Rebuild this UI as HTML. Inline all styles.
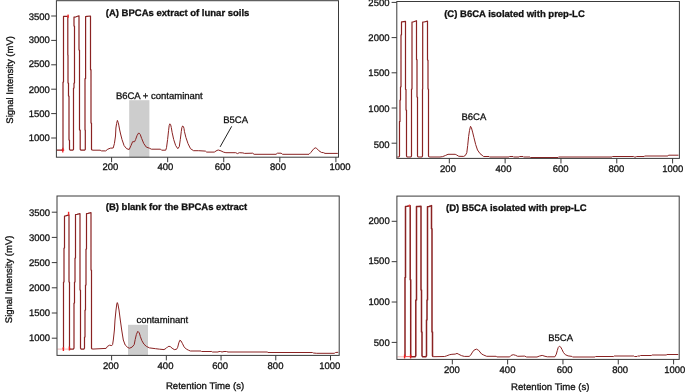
<!DOCTYPE html>
<html><head><meta charset="utf-8"><style>
html,body{margin:0;padding:0;background:#fff;}
body{width:685px;height:392px;overflow:hidden;}
svg{display:block;will-change:transform;}
svg text{text-rendering:geometricPrecision;font-family:"Liberation Sans", sans-serif;font-size:9.5px;fill:#111;stroke:#111;stroke-width:0.3px;}
svg text.t{font-weight:bold;}
</style></head><body>
<svg width="685" height="392" viewBox="0 0 685 392">
<rect x="0" y="0" width="685" height="392" fill="#fff"/>
<rect x="129.2" y="100.2" width="20.2" height="57" fill="#cdcdcd"/>
<rect x="128.0" y="324.8" width="20.0" height="30.4" fill="#cdcdcd"/>
<polyline points="92.20,150.20 100.10,150.20 101.60,150.90 105.70,150.90 107.80,149.20 110.30,148.20 113.20,148.00 114.40,143.60 115.50,136.00 115.90,128.00 116.60,123.50 117.40,120.40 118.20,122.50 118.80,125.20 119.70,130.00 120.60,134.00 122.00,139.50 124.10,145.60 126.60,148.70 129.20,149.50 131.00,145.60 132.60,141.70 134.60,141.70 135.60,139.50 137.10,135.40 138.70,132.90 140.20,134.40 141.70,138.50 143.80,143.60 146.30,147.10 149.40,148.20 151.40,149.20 160.60,149.20 161.60,150.20 165.70,150.20 166.50,147.70 167.60,139.50 168.60,130.30 169.20,125.50 169.90,123.80 170.60,124.60 171.30,127.50 172.10,132.30 173.70,139.50 175.70,145.60 177.80,148.70 179.30,146.60 180.30,139.50 181.30,131.30 181.90,127.50 182.60,126.00 183.40,126.50 184.00,128.50 184.40,131.30 185.90,137.40 188.00,143.60 190.50,148.70 193.60,150.70 198.70,150.70 205.40,151.10 206.70,152.10 214.30,152.10 217.00,150.40 218.30,150.00 221.00,150.90 223.70,152.20 225.90,152.70 235.70,152.70 237.50,153.60 239.30,152.70 242.90,152.90 244.60,153.40 252.70,153.20 254.10,154.30 276.00,154.30 277.50,153.20 281.10,153.20 282.60,154.30 309.00,154.30 310.80,152.50 313.40,149.20 315.20,147.80 316.60,148.30 318.80,150.70 321.40,152.40 323.60,152.70 325.00,153.40 337.80,153.40" fill="none" stroke="#8a2222" stroke-width="1.0" stroke-linejoin="round" stroke-opacity="1.0" /><polyline points="56.50,150.20 62.30,150.20 63.00,149.30 63.00,82.00 63.50,82.00 63.50,16.40 67.80,16.40 67.80,55.00 68.00,55.00 68.00,83.00 68.50,83.00 68.50,96.00 69.00,96.00 69.00,140.00 69.50,140.00 69.50,149.30 70.20,150.20 72.80,150.20 73.50,149.30 73.50,88.00 74.00,88.00 74.00,83.00 74.50,83.00 74.50,26.00 74.00,26.00 74.00,17.20 76.00,16.80 79.00,15.80 79.00,50.00 79.50,50.00 79.50,130.00 80.20,130.00 80.20,149.30 80.90,150.20 84.60,150.20 85.30,149.30 85.30,130.00 85.00,130.00 85.00,78.60 85.60,78.60 85.60,16.60 87.00,16.30 90.50,16.00 90.50,69.70 91.00,69.70 91.00,123.00 91.50,123.00 91.50,149.30 92.20,150.20" fill="none" stroke="#8a2222" stroke-width="1.2" stroke-linejoin="round" stroke-opacity="1.0" />
<path d="M61.5,150.2 H64.2 M62.8,147.8 V152.6" stroke="#e8161b" stroke-width="1.2"/><rect x="67.3" y="14.6" width="1.6" height="3.2" fill="#f03030"/>
<polyline points="92.20,349.10 106.10,348.40 107.50,346.30 109.60,345.20 111.80,345.60 112.60,344.50 113.30,340.00 114.40,330.00 115.00,320.00 116.00,310.00 116.80,304.00 117.30,302.60 117.90,304.00 119.00,310.00 120.30,320.00 121.70,330.00 123.30,340.00 125.20,345.00 127.90,347.60 129.60,348.20 132.10,347.10 134.20,344.60 135.20,339.50 136.40,334.40 137.80,331.30 139.30,332.90 140.30,336.40 141.80,340.50 143.90,344.10 146.40,346.40 149.50,347.90 155.60,348.70 159.70,349.20 164.00,349.60 166.30,348.20 167.60,346.90 168.90,346.30 170.30,346.60 172.10,348.20 174.30,349.60 176.50,349.30 177.70,347.30 178.80,342.90 179.80,340.30 181.00,340.90 182.30,343.30 184.10,346.90 186.30,349.10 188.50,350.20 190.40,351.00 201.10,351.00 201.60,351.50 211.80,351.50 212.50,352.00 218.00,352.00 219.00,351.50 220.50,351.50 222.00,352.00 224.00,351.50 226.50,351.50 228.00,352.00 267.20,352.00 268.00,352.50 312.50,352.50 313.50,353.00 316.70,353.30 334.30,353.30 335.50,352.50 338.30,352.30" fill="none" stroke="#8a2222" stroke-width="1.0" stroke-linejoin="round" stroke-opacity="1.0" /><polyline points="62.80,349.10 63.50,348.20 63.50,282.00 64.00,282.00 64.00,248.00 64.50,248.00 64.50,216.10 65.50,215.90 68.30,215.10 69.00,214.90 69.00,282.00 69.50,282.00 69.50,348.20 70.20,349.10 73.30,349.10 74.00,348.20 74.00,303.00 74.50,303.00 74.50,282.00 75.00,282.00 75.00,258.00 75.50,258.00 75.50,214.50 77.00,214.30 80.00,213.60 80.00,290.00 80.50,290.00 80.50,348.20 81.20,349.10 83.80,349.10 84.50,348.20 84.50,337.00 85.00,337.00 85.00,310.00 85.50,310.00 85.50,285.00 86.00,285.00 86.00,249.00 86.50,249.00 86.50,213.60 88.00,213.40 91.00,212.60 91.00,270.00 91.50,270.00 91.50,348.20 92.20,349.10" fill="none" stroke="#8a2222" stroke-width="1.2" stroke-linejoin="round" stroke-opacity="1.0" />
<line x1="57.5" y1="349.1" x2="69.5" y2="349.1" stroke="#f2b0b0" stroke-width="1"/><path d="M63.4,347 V351 M69.4,346.4 V350.6" stroke="#ee1c1c" stroke-width="1.4"/><rect x="67.9" y="211.8" width="1.4" height="3.8" fill="#f02828"/>
<polyline points="429.20,157.00 440.00,157.00 442.70,156.60 445.40,155.50 448.00,154.30 455.20,154.30 456.50,154.90 458.80,156.30 463.70,156.40 465.40,155.40 466.80,152.70 467.70,145.50 468.60,136.60 469.50,130.40 470.50,126.30 471.40,127.70 472.60,132.10 473.90,137.40 475.70,144.60 477.50,150.00 480.00,153.60 482.90,155.90 483.60,156.50 489.00,156.50 489.50,157.00 509.00,157.00 509.50,156.50 513.00,156.50 513.50,157.00 519.00,157.00 519.50,156.50 523.00,156.50 523.50,157.00 530.00,157.00 530.50,157.50 558.00,157.50 558.50,157.00 612.00,157.00 612.50,156.50 633.70,156.50 634.50,157.00 636.00,157.00 636.60,156.50 644.20,156.50 644.80,156.00 667.90,156.00 668.50,155.20 678.50,155.20" fill="none" stroke="#8a2222" stroke-width="1.0" stroke-linejoin="round" stroke-opacity="1.0" /><polyline points="397.20,157.00 398.80,157.00 399.50,156.10 399.50,121.40 400.00,121.40 400.00,100.00 400.50,100.00 400.50,86.80 401.00,86.80 401.00,34.80 401.50,34.80 401.50,21.90 402.00,21.90 405.50,21.30 405.50,89.30 406.00,89.30 406.00,110.00 406.50,110.00 406.50,156.10 407.20,157.00 410.80,157.00 411.50,156.10 411.50,89.00 412.00,89.00 412.00,22.20 413.00,22.00 416.50,20.70 416.50,59.60 417.00,59.60 417.00,97.00 417.50,97.00 417.50,156.10 418.20,157.00 421.80,157.00 422.50,156.10 422.50,89.00 422.70,89.00 422.70,22.10 424.00,22.00 427.50,21.10 427.50,60.00 428.00,60.00 428.00,89.00 428.50,89.00 428.50,156.10 429.20,157.00" fill="none" stroke="#8a2222" stroke-width="1.2" stroke-linejoin="round" stroke-opacity="1.0" />
<polyline points="433.20,356.70 444.60,356.50 446.80,355.80 449.70,354.70 451.90,354.30 455.20,354.10 457.00,353.40 458.80,354.30 461.40,355.60 464.30,356.40 469.10,356.40 470.50,355.40 472.00,352.90 473.80,350.30 476.40,349.10 478.60,350.30 481.60,354.00 483.80,355.10 486.70,356.30 496.20,356.30 496.90,356.90 509.70,356.90 511.10,355.40 513.30,354.70 515.50,355.30 517.70,356.30 524.70,356.10 526.60,357.00 537.00,357.00 539.30,356.10 542.20,355.40 545.00,356.30 547.40,356.80 554.90,356.80 556.30,354.20 557.30,350.50 558.20,347.60 559.40,346.20 560.80,347.20 562.00,349.50 563.40,352.40 565.30,354.70 568.10,355.90 571.90,356.40 572.50,357.00 595.10,357.00 595.60,356.50 613.60,356.50 614.20,356.00 633.80,356.00 634.50,356.50 637.00,356.50 637.50,356.00 640.00,356.00 640.50,355.50 651.30,355.50 652.10,355.00 666.20,355.00 667.00,354.50 678.30,354.50" fill="none" stroke="#8a2222" stroke-width="1.0" stroke-linejoin="round" stroke-opacity="1.0" /><polyline points="404.30,356.70 405.00,355.80 405.00,277.60 405.50,277.60 405.50,206.40 407.00,206.30 410.20,205.70 410.20,279.70 410.70,279.70 410.70,355.80 411.40,356.70 415.10,356.70 415.80,355.80 415.80,300.00 416.50,300.00 416.50,206.50 418.00,206.40 421.00,206.30 421.00,290.00 421.50,290.00 421.50,331.90 422.00,331.90 422.00,355.80 422.70,356.70 425.80,356.70 426.50,355.80 426.50,320.00 427.00,320.00 427.00,300.00 427.50,300.00 427.50,206.70 429.00,206.50 431.50,205.60 431.50,228.70 432.00,228.70 432.00,332.00 432.50,332.00 432.50,355.80 433.20,356.70" fill="none" stroke="#8a2222" stroke-width="1.5" stroke-linejoin="round" stroke-opacity="1.0" />
<line x1="397.5" y1="356.8" x2="404.6" y2="356.8" stroke="#f0b8b8" stroke-width="1"/><path d="M404.6,356.6 H410.6" stroke="#f04040" stroke-width="0.9"/><path d="M404.6,354.6 V358.6 M410.6,354.6 V358.6" stroke="#ee1c1c" stroke-width="1.4"/><rect x="408.8" y="204.6" width="1.4" height="2.4" fill="#f03838"/>
<rect x="56.4" y="0.7" width="282.10" height="156.50" fill="none" stroke="#3a3a3a" stroke-width="1"/>
<line x1="51.20" y1="16.00" x2="56.4" y2="16.00" stroke="#3a3a3a" stroke-width="1"/>
<text x="49.80" y="20.00" text-anchor="end">3500</text>
<line x1="51.20" y1="40.40" x2="56.4" y2="40.40" stroke="#3a3a3a" stroke-width="1"/>
<text x="49.80" y="43.20" text-anchor="end">3000</text>
<line x1="51.20" y1="64.80" x2="56.4" y2="64.80" stroke="#3a3a3a" stroke-width="1"/>
<text x="49.80" y="67.30" text-anchor="end">2500</text>
<line x1="51.20" y1="89.20" x2="56.4" y2="89.20" stroke="#3a3a3a" stroke-width="1"/>
<text x="49.80" y="93.00" text-anchor="end">2000</text>
<line x1="51.20" y1="113.60" x2="56.4" y2="113.60" stroke="#3a3a3a" stroke-width="1"/>
<text x="49.80" y="117.10" text-anchor="end">1500</text>
<line x1="51.20" y1="138.00" x2="56.4" y2="138.00" stroke="#3a3a3a" stroke-width="1"/>
<text x="49.80" y="141.10" text-anchor="end">1000</text>
<line x1="111.58" y1="157.2" x2="111.58" y2="162.20" stroke="#3a3a3a" stroke-width="1"/>
<text x="110.40" y="170.30" text-anchor="middle">200</text>
<line x1="167.66" y1="157.2" x2="167.66" y2="162.20" stroke="#3a3a3a" stroke-width="1"/>
<text x="165.40" y="170.30" text-anchor="middle">400</text>
<line x1="223.74" y1="157.2" x2="223.74" y2="162.20" stroke="#3a3a3a" stroke-width="1"/>
<text x="222.70" y="170.30" text-anchor="middle">600</text>
<line x1="279.82" y1="157.2" x2="279.82" y2="162.20" stroke="#3a3a3a" stroke-width="1"/>
<text x="278.00" y="170.30" text-anchor="middle">800</text>
<line x1="335.90" y1="157.2" x2="335.90" y2="162.20" stroke="#3a3a3a" stroke-width="1"/>
<text x="340.10" y="170.30" text-anchor="middle">1000</text>
<rect x="57.0" y="196.0" width="282.20" height="159.40" fill="none" stroke="#3a3a3a" stroke-width="1"/>
<line x1="51.80" y1="212.20" x2="57.0" y2="212.20" stroke="#3a3a3a" stroke-width="1"/>
<text x="50.15" y="215.50" text-anchor="end">3500</text>
<line x1="51.80" y1="237.40" x2="57.0" y2="237.40" stroke="#3a3a3a" stroke-width="1"/>
<text x="50.15" y="240.50" text-anchor="end">3000</text>
<line x1="51.80" y1="262.60" x2="57.0" y2="262.60" stroke="#3a3a3a" stroke-width="1"/>
<text x="50.15" y="265.90" text-anchor="end">2500</text>
<line x1="51.80" y1="287.80" x2="57.0" y2="287.80" stroke="#3a3a3a" stroke-width="1"/>
<text x="50.15" y="290.90" text-anchor="end">2000</text>
<line x1="51.80" y1="313.00" x2="57.0" y2="313.00" stroke="#3a3a3a" stroke-width="1"/>
<text x="50.15" y="316.30" text-anchor="end">1500</text>
<line x1="51.80" y1="338.20" x2="57.0" y2="338.20" stroke="#3a3a3a" stroke-width="1"/>
<text x="50.15" y="341.30" text-anchor="end">1000</text>
<line x1="111.62" y1="355.4" x2="111.62" y2="360.40" stroke="#3a3a3a" stroke-width="1"/>
<text x="110.90" y="368.50" text-anchor="middle">200</text>
<line x1="166.34" y1="355.4" x2="166.34" y2="360.40" stroke="#3a3a3a" stroke-width="1"/>
<text x="165.50" y="368.50" text-anchor="middle">400</text>
<line x1="221.06" y1="355.4" x2="221.06" y2="360.40" stroke="#3a3a3a" stroke-width="1"/>
<text x="220.10" y="368.50" text-anchor="middle">600</text>
<line x1="275.78" y1="355.4" x2="275.78" y2="360.40" stroke="#3a3a3a" stroke-width="1"/>
<text x="275.50" y="368.50" text-anchor="middle">800</text>
<line x1="330.50" y1="355.4" x2="330.50" y2="360.40" stroke="#3a3a3a" stroke-width="1"/>
<text x="329.80" y="368.50" text-anchor="middle">1000</text>
<rect x="396.8" y="1.5" width="282.60" height="156.90" fill="none" stroke="#3a3a3a" stroke-width="1"/>
<line x1="391.60" y1="2.40" x2="396.8" y2="2.40" stroke="#3a3a3a" stroke-width="1"/>
<text x="389.50" y="5.50" text-anchor="end">2500</text>
<line x1="391.60" y1="37.60" x2="396.8" y2="37.60" stroke="#3a3a3a" stroke-width="1"/>
<text x="389.50" y="41.20" text-anchor="end">2000</text>
<line x1="391.60" y1="72.80" x2="396.8" y2="72.80" stroke="#3a3a3a" stroke-width="1"/>
<text x="389.50" y="75.80" text-anchor="end">1500</text>
<line x1="391.60" y1="108.00" x2="396.8" y2="108.00" stroke="#3a3a3a" stroke-width="1"/>
<text x="389.50" y="112.00" text-anchor="end">1000</text>
<line x1="391.60" y1="143.20" x2="396.8" y2="143.20" stroke="#3a3a3a" stroke-width="1"/>
<text x="389.50" y="147.70" text-anchor="end">500</text>
<line x1="449.32" y1="158.4" x2="449.32" y2="163.40" stroke="#3a3a3a" stroke-width="1"/>
<text x="448.00" y="171.50" text-anchor="middle">200</text>
<line x1="505.14" y1="158.4" x2="505.14" y2="163.40" stroke="#3a3a3a" stroke-width="1"/>
<text x="503.50" y="171.50" text-anchor="middle">400</text>
<line x1="560.96" y1="158.4" x2="560.96" y2="163.40" stroke="#3a3a3a" stroke-width="1"/>
<text x="560.70" y="171.50" text-anchor="middle">600</text>
<line x1="616.78" y1="158.4" x2="616.78" y2="163.40" stroke="#3a3a3a" stroke-width="1"/>
<text x="616.40" y="171.50" text-anchor="middle">800</text>
<line x1="672.60" y1="158.4" x2="672.60" y2="163.40" stroke="#3a3a3a" stroke-width="1"/>
<text x="672.70" y="171.50" text-anchor="middle">1000</text>
<rect x="396.9" y="196.1" width="282.30" height="163.30" fill="none" stroke="#3a3a3a" stroke-width="1"/>
<line x1="391.70" y1="221.30" x2="396.9" y2="221.30" stroke="#3a3a3a" stroke-width="1"/>
<text x="389.70" y="224.30" text-anchor="end">2000</text>
<line x1="391.70" y1="261.67" x2="396.9" y2="261.67" stroke="#3a3a3a" stroke-width="1"/>
<text x="389.70" y="263.90" text-anchor="end">1500</text>
<line x1="391.70" y1="302.03" x2="396.9" y2="302.03" stroke="#3a3a3a" stroke-width="1"/>
<text x="389.70" y="305.10" text-anchor="end">1000</text>
<line x1="391.70" y1="342.40" x2="396.9" y2="342.40" stroke="#3a3a3a" stroke-width="1"/>
<text x="389.70" y="346.00" text-anchor="end">500</text>
<line x1="452.32" y1="359.4" x2="452.32" y2="364.40" stroke="#3a3a3a" stroke-width="1"/>
<text x="451.90" y="372.50" text-anchor="middle">200</text>
<line x1="507.64" y1="359.4" x2="507.64" y2="364.40" stroke="#3a3a3a" stroke-width="1"/>
<text x="507.50" y="372.50" text-anchor="middle">400</text>
<line x1="562.96" y1="359.4" x2="562.96" y2="364.40" stroke="#3a3a3a" stroke-width="1"/>
<text x="564.60" y="372.50" text-anchor="middle">600</text>
<line x1="618.28" y1="359.4" x2="618.28" y2="364.40" stroke="#3a3a3a" stroke-width="1"/>
<text x="620.10" y="372.50" text-anchor="middle">800</text>
<line x1="673.60" y1="359.4" x2="673.60" y2="364.40" stroke="#3a3a3a" stroke-width="1"/>
<text x="674.70" y="372.50" text-anchor="middle">1000</text>
<text class="t" x="105.8" y="16.4">(A) BPCAs extract of lunar soils</text>
<text class="t" x="105.8" y="210.0">(B) blank for the BPCAs extract</text>
<text class="t" x="444.2" y="16.9">(C) B6CA isolated with prep-LC</text>
<text class="t" x="446.0" y="210.8">(D) B5CA isolated with prep-LC</text>
<text x="115.9" y="98.9">B6CA + contaminant</text>
<text x="223.2" y="122.6">B5CA</text>
<line x1="220.1" y1="146.9" x2="231.7" y2="126.3" stroke="#222" stroke-width="1"/>
<text x="136.4" y="322.5">contaminant</text>
<text x="461.5" y="120.2">B6CA</text>
<text x="548.2" y="340.6">B5CA</text>
<text x="165.9" y="389.4" style="font-size:9.6px">Retention Time (s)</text>
<text x="511.1" y="389.8" style="font-size:9.6px">Retention Time (s)</text>
<text transform="translate(12.6,123.7) rotate(-90)">Signal Intensity (mV)</text>
<text transform="translate(11.7,323.2) rotate(-90)">Signal Intensity (mV)</text>
</svg>
</body></html>
